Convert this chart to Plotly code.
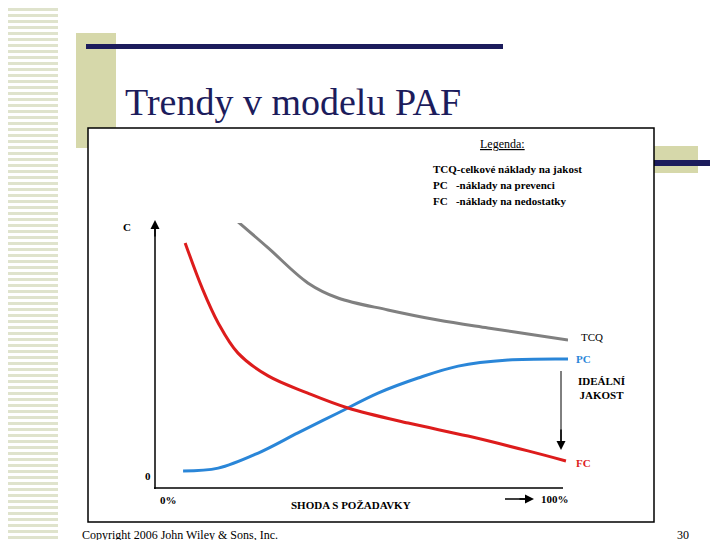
import plotly.graph_objects as go

# PAF model trends, x = conformance to requirements (%), y = relative cost
tcq_x = [19.6, 27.4, 37.0, 44.3, 56.4, 68.5, 80.6, 90.3, 100]
tcq_y = [101.1, 90.6, 77.4, 71.7, 67.2, 63.4, 60.4, 58.1, 55.8]
pc_x = [6.8, 15.3, 25.0, 34.6, 44.3, 54.0, 63.7, 73.4, 85.5, 100]
pc_y = [6.4, 7.5, 13.2, 20.8, 28.3, 35.8, 41.5, 46.0, 48.3, 48.7]
fc_x = [7.3, 11.4, 15.3, 20.1, 27.4, 37.0, 46.7, 61.3, 75.8, 90.3, 99.5]
fc_y = [92.5, 75.5, 62.3, 50.9, 42.3, 35.8, 30.2, 24.5, 19.6, 14.0, 10.2]

W, H = 720, 540


def px(x, y):
    return x / W, 1 - y / H


fig = go.Figure()
for xs, ys, col in [(tcq_x, tcq_y, "#808080"), (pc_x, pc_y, "#2a86d8"), (fc_x, fc_y, "#dd1c1c")]:
    fig.add_trace(go.Scatter(x=xs, y=ys, mode="lines", line=dict(color=col, width=3, shape="spline"),
                             showlegend=False, hoverinfo="skip"))

shapes = []
# striped left column
for i in range(0, H, 6):
    x0, y0 = px(0, i)
    x1, y1 = px(50, i + 3)
    shapes.append(dict(type="rect", xref="paper", yref="paper", x0=x0, y0=y1, x1=x1, y1=y0,
                       fillcolor="#dfe3cc", line=dict(width=0), layer="below"))


def rect(xa, ya, xb, yb, fill, lw=0, lc="black"):
    x0, y0 = px(xa, ya)
    x1, y1 = px(xb, yb)
    shapes.append(dict(type="rect", xref="paper", yref="paper", x0=x0, y0=y1, x1=x1, y1=y0,
                       fillcolor=fill, line=dict(width=lw, color=lc), layer="below"))


def line(xa, ya, xb, yb, col="black", w=1.5):
    x0, y0 = px(xa, ya)
    x1, y1 = px(xb, yb)
    shapes.append(dict(type="line", xref="paper", yref="paper", x0=x0, y0=y0, x1=x1, y1=y1,
                       line=dict(color=col, width=w)))


rect(68, 25, 108, 140, "#d6d8aa")
rect(646, 138, 690, 165, "#d6d8aa")
rect(78, 36, 495, 41, "#1c1c5c")
rect(598, 152, 702, 158, "#1c1c5c")
rect(80, 120, 646, 514, "white", 1.5)
line(147, 215, 147, 481)
line(146, 480, 555, 480)
line(553, 363, 553, 440, w=1)
line(497, 491, 520, 491, w=1.5)

ann = []


def text(x, y, s, size=11, color="black", anchor="left", font="Liberation Serif", bold=True):
    xp, yp = px(x, y)
    ann.append(dict(x=xp, y=yp, xref="paper", yref="paper", text=f"<b>{s}</b>" if bold else s,
                    showarrow=False, xanchor=anchor, yanchor="middle",
                    font=dict(size=size, color=color, family=font)))


def arrow(xa, ya, xb, yb):
    x1, y1 = px(xb, yb)
    ann.append(dict(x=x1, y=y1, ax=xa - xb, ay=ya - yb, xref="paper", yref="paper",
                    text="", showarrow=True, arrowhead=2, arrowsize=1.2, arrowwidth=1.5, arrowcolor="black"))


arrow(147, 230, 147, 212)
arrow(553, 420, 553, 442)
arrow(510, 491, 526, 491)

text(115, 94, "Trendy v modelu PAF", size=38, color="#1c1c5c", bold=False)
text(470, 136, "<u>Legenda:</u>", size=12, bold=False)
text(423, 161, "TCQ-celkové náklady na jakost")
text(423, 177, "PC   -náklady na prevenci")
text(423, 193, "FC   -náklady na nedostatky")
text(113, 219, "C")
text(135, 468, "0")
text(150, 492, "0%")
text(343, 497, "SHODA S POŽADAVKY", anchor="center")
text(531, 491, "100%")
text(571, 329, "TCQ", bold=False)
text(566, 351, "PC", color="#2a86d8")
text(568, 380, "IDEÁLNÍ<br>JAKOST", size=11)
text(566, 455, "FC", color="#dd1c1c")
text(72, 527, "Copyright 2006 John Wiley & Sons, Inc.", size=12, bold=False)
text(683, 527, "30", size=12, anchor="right", bold=False)

x0, _ = px(147, 0)
x1, _ = px(560, 0)
_, yb = px(0, 480)
_, yt = px(0, 215)
fig.update_layout(
    width=W, height=H, margin=dict(l=0, r=0, t=0, b=0),
    paper_bgcolor="white", plot_bgcolor="rgba(0,0,0,0)",
    xaxis=dict(domain=[x0, x1], range=[0, 100], visible=False),
    yaxis=dict(domain=[yb, yt], range=[0, 100], visible=False),
    shapes=shapes, annotations=ann,
)
fig.write_html("out.html")
